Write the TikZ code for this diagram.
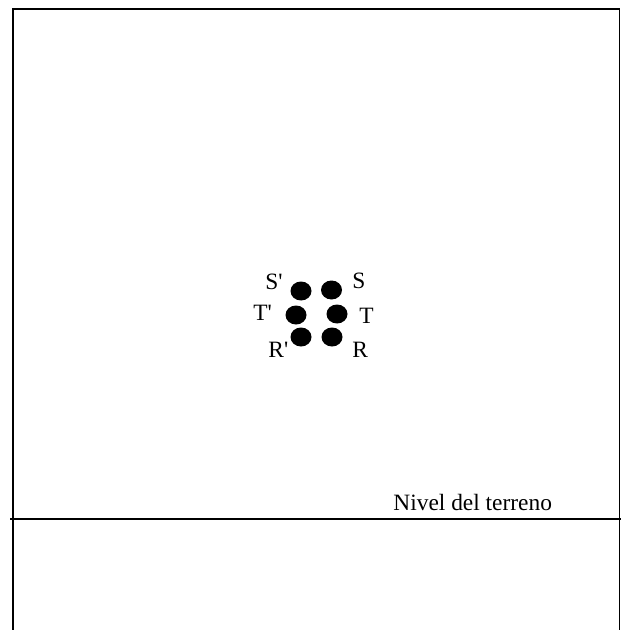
\documentclass[tikz,border=0pt]{standalone}
\usepackage{fontspec}
\setmainfont{Liberation Serif}
\usetikzlibrary{shapes,positioning}

\begin{document}
\begin{tikzpicture}[x=0.5pt,y=-0.5pt,
    cond/.style={ellipse,fill=black,inner sep=0pt,minimum width=10.5pt,minimum height=9.5pt},
    fase/.style={anchor=base west,inner sep=0pt,font=\fontsize{11.7}{14}\selectfont}]
    \useasboundingbox (0,0) rectangle (621,630);
    % marco
    \draw[line width=0.75pt] (13,630) -- (13,9) -- (619.5,9) -- (619.5,630);
    % nivel del terreno
    \coordinate (g1) at (10,519);
    \coordinate (g2) at (621,519);
    \draw[line width=0.75pt] (g1) -- (g2);
    \node[fase] (nivel) at (393,510) {Nivel del terreno};
    % conductores
    \node[cond] (Sp) at (301,291) {};
    \node[cond] (S) at (331.5,290) {};
    \node[cond] (Tp) at (296,315) {};
    \node[cond] (T) at (337,314) {};
    \node[cond] (Rp) at (301,337) {};
    \node[cond] (R) at (332,337) {};
    \node[fase] (lSp) at (265,289) {S\textquotesingle};
    \node[fase] (lS) at (352,288) {S};
    \node[fase] (lTp) at (253,320) {T\textquotesingle};
    \node[fase] (lT) at (359,323) {T};
    \node[fase] (lRp) at (268,357) {R\textquotesingle};
    \node[fase] (lR) at (352,357) {R};
\end{tikzpicture}
\end{document}
